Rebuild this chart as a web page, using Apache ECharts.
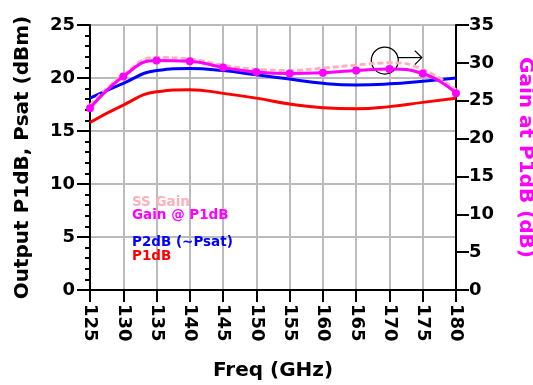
<!DOCTYPE html>
<html>
<head>
<meta charset="utf-8">
<script src="https://cdn.jsdelivr.net/npm/echarts@6/dist/echarts.min.js"></script>
<style>
  html, body { margin: 0; padding: 0; background: #fff; }
  #chart { width: 533px; height: 385px; }
</style>
</head>
<body>
<div id="chart"></div>
<script>
const freq = [125, 130, 135, 140, 145, 150, 155, 160, 165, 170, 175, 180];
const p1dB = [15.8, 17.45, 18.7, 18.9, 18.55, 18.1, 17.55, 17.2, 17.1, 17.3, 17.7, 18.1];
const p2dB = [18.1, 19.5, 20.7, 20.9, 20.7, 20.3, 19.9, 19.5, 19.35, 19.45, 19.7, 20.0];
const gainP1 = [24.0, 28.2, 30.3, 30.2, 29.4, 28.8, 28.6, 28.7, 29.0, 29.2, 28.6, 26.0];
const ssGain = [24.4, 28.4, 30.7, 30.5, 29.7, 29.15, 29.0, 29.3, 29.7, 30.0, 29.15, 26.4];

const font = "DejaVu Sans, sans-serif";
const pair = (ys) => freq.map((f, i) => [f, ys[i]]);

const chart = echarts.init(document.getElementById("chart"), null, { renderer: "canvas" });

const tickLabel = { fontFamily: font, fontWeight: "bold", fontSize: 18, color: "#000" };
const titleFont = { fontFamily: font, fontWeight: "bold", fontSize: 20, color: "#000" };

chart.setOption({
  animation: false,
  grid: {
    left: 90, right: 77, top: 25, bottom: 95,
    outerBoundsMode: "none", containLabel: false,
    show: true, borderColor: "#000", borderWidth: 2
  },
  xAxis: {
    type: "value", min: 125, max: 180, interval: 5,
    name: "Freq (GHz)", nameLocation: "middle", nameGap: 71,
    nameTextStyle: titleFont,
    axisLine: { lineStyle: { color: "#000", width: 2 } },
    axisTick: { lineStyle: { color: "#000", width: 2 }, length: 12 },
    axisLabel: { ...tickLabel, rotate: -90, margin: 14 },
    splitLine: { show: true, lineStyle: { color: "#bbb", width: 2 } }
  },
  yAxis: [
    {
      type: "value", min: 0, max: 25, interval: 5,
      name: "Output P1dB, Psat (dBm)", nameLocation: "middle", nameGap: 57,
      nameTextStyle: titleFont,
      axisLine: { show: true, lineStyle: { color: "#000", width: 2 } },
      axisTick: { show: true, lineStyle: { color: "#000", width: 2 }, length: 13 },
      minorTick: { show: true, splitNumber: 5, length: 5, lineStyle: { color: "#000", width: 2 } },
      axisLabel: { ...tickLabel, margin: 15 },
      splitLine: { show: true, lineStyle: { color: "#bbb", width: 2 } }
    },
    {
      type: "value", min: 0, max: 35, interval: 5, position: "right",
      name: "Gain at P1dB (dB)", nameLocation: "middle", nameGap: 59, nameRotate: -90,
      nameTextStyle: { ...titleFont, color: "#ff00ff" },
      axisLine: { show: true, lineStyle: { color: "#000", width: 2 } },
      axisTick: { show: true, lineStyle: { color: "#000", width: 2 }, length: 13 },
      axisLabel: { ...tickLabel, margin: 13 },
      splitLine: { show: false }
    }
  ],
  series: [
    {
      name: "P1dB", type: "line", smooth: true, yAxisIndex: 0, data: pair(p1dB),
      showSymbol: false, lineStyle: { color: "#ff0000", width: 3 }, itemStyle: { color: "#ff0000" }
    },
    {
      name: "P2dB (~Psat)", type: "line", smooth: true, yAxisIndex: 0, data: pair(p2dB),
      showSymbol: false, lineStyle: { color: "#0000ff", width: 3 }, itemStyle: { color: "#0000ff" }
    },
    {
      name: "SS Gain", type: "line", smooth: true, yAxisIndex: 1, data: pair(ssGain),
      showSymbol: false, lineStyle: { color: "#ffb0bc", width: 3, type: [6, 3] }, itemStyle: { color: "#ffb0bc" }
    },
    {
      name: "Gain @ P1dB", type: "line", smooth: true, yAxisIndex: 1, data: pair(gainP1),
      symbol: "circle", symbolSize: 8,
      lineStyle: { color: "#ff00ff", width: 3 }, itemStyle: { color: "#ff00ff" }
    }
  ]
});

// in-plot legend text and the "circle + arrow" annotation pointing at the right axis
const legendItems = [
  { text: "SS Gain", color: "#ffb0bc", y: 203 },
  { text: "Gain @ P1dB", color: "#ff00ff", y: 216 },
  { text: "P2dB (~Psat)", color: "#0000ff", y: 243 },
  { text: "P1dB", color: "#ff0000", y: 257 }
];
const c = chart.convertToPixel({ xAxisIndex: 0, yAxisIndex: 1 }, [169.3, 30.3]);
chart.setOption({
  graphic: [
    ...legendItems.map((d) => ({
      type: "text", left: 132, top: d.y - 8,
      style: { text: d.text, fill: d.color, font: "bold 13.5px " + font }
    })),
    { type: "circle", shape: { cx: c[0], cy: c[1], r: 13.5 }, style: { fill: "none", stroke: "#000", lineWidth: 1.2 } },
    { type: "line", shape: { x1: c[0] + 13, y1: c[1] - 3, x2: c[0] + 37, y2: c[1] - 3 }, style: { stroke: "#000", lineWidth: 1.2 } },
    { type: "polyline", shape: { points: [[c[0] + 30, c[1] - 10], [c[0] + 37, c[1] - 3], [c[0] + 30, c[1] + 4]] }, style: { fill: "none", stroke: "#000", lineWidth: 1.2 } }
  ]
});
</script>
</body>
</html>
